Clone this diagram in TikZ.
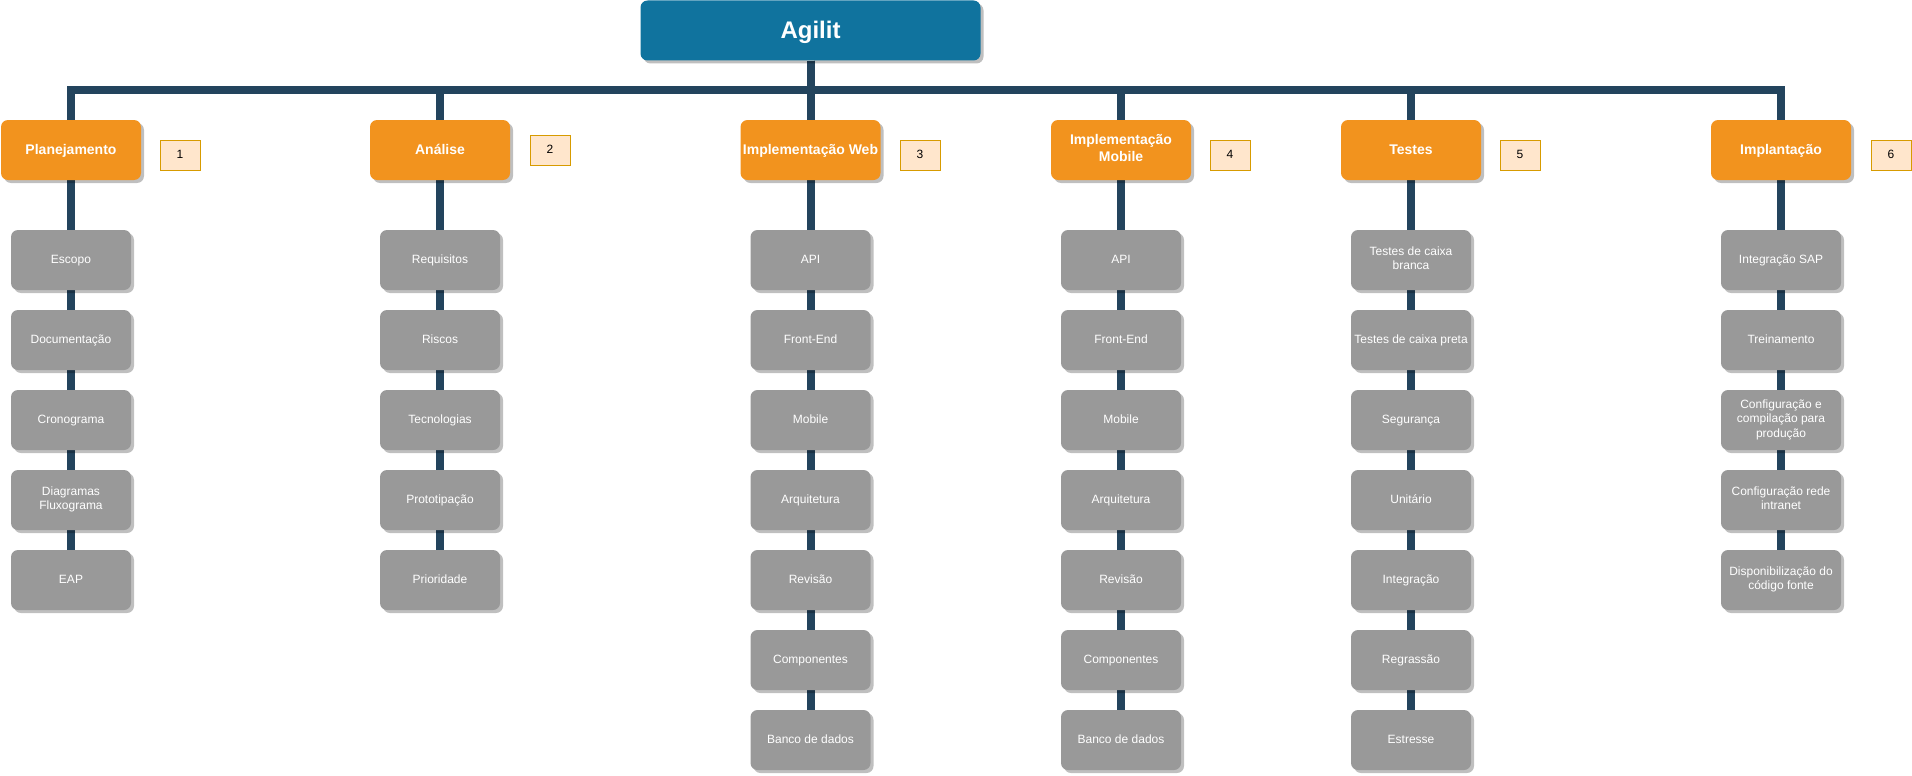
\documentclass[tikz,border=0pt]{standalone}
\usepackage{fontspec}
\setmainfont{Liberation Sans}
\usetikzlibrary{shadows,backgrounds}
\definecolor{agblue}{HTML}{10739E}
\definecolor{agorange}{HTML}{F2931E}
\definecolor{aggray}{HTML}{999999}
\definecolor{agline}{HTML}{23445D}
\definecolor{lblfill}{HTML}{FFE6CC}
\definecolor{lbldraw}{HTML}{D79B00}
\newcommand\dstrut{\vrule width 0pt height 0.93em depth 0.27em\relax}
\begin{document}
\begin{tikzpicture}[x=1pt,y=-1pt,
 shadowed/.style={drop shadow={shadow xshift=3pt,shadow yshift=-3pt,opacity=0.25,fill=black}},
 boxtext/.style={execute at begin node=\dstrut,execute at end node=\dstrut},
 topbox/.style={rectangle,rounded corners=7pt,fill=agblue,minimum width=340pt,minimum height=60pt,inner sep=0pt,text=white,font=\fontsize{24}{28.8}\selectfont\bfseries,align=center,boxtext,shadowed},
 phase/.style={rectangle,rounded corners=7pt,fill=agorange,minimum width=140pt,minimum height=60pt,inner sep=0pt,text=white,font=\fontsize{14}{16.8}\selectfont\bfseries,align=center,boxtext,shadowed},
 task/.style={rectangle,rounded corners=7pt,fill=aggray,minimum width=120pt,minimum height=60pt,inner sep=0pt,text=white,font=\fontsize{12}{14.4}\selectfont,align=center,boxtext,shadowed},
 num/.style={rectangle,fill=lblfill,draw=lbldraw,line width=1pt,minimum width=40pt,minimum height=30pt,inner sep=0pt,font=\fontsize{12}{14.4}\selectfont,align=center,boxtext},
 conn/.style={draw=agline,line width=8pt}]
\useasboundingbox (0,0) rectangle (1912,776);
\coordinate (bus) at (0,90);

\node[topbox] (top) at (810.5,30.5) {Agilit};

% headers
\node[phase] (p1) at (71,150) {Planejamento};
\node[phase] (p2) at (440,150) {Análise};
\node[phase] (p3) at (810.5,150) {Implementação Web};
\node[phase] (p4) at (1121,150) {Implementação\\Mobile};
\node[phase] (p5) at (1411,150) {Testes};
\node[phase] (p6) at (1781,150) {Implantação};

% number labels
\node[num] (n1) at (180,155) {1};
\node[num] (n2) at (550,150) {2};
\node[num] (n3) at (920,155) {3};
\node[num] (n4) at (1230,155) {4};
\node[num] (n5) at (1520,155) {5};
\node[num] (n6) at (1891,155) {6};

% column 1
\node[task] (t11) at (71,260) {Escopo};
\node[task] (t12) at (71,340) {Documentação};
\node[task] (t13) at (71,420) {Cronograma};
\node[task] (t14) at (71,500) {Diagramas\\Fluxograma};
\node[task] (t15) at (71,580) {EAP};
% column 2
\node[task] (t21) at (440,260) {Requisitos};
\node[task] (t22) at (440,340) {Riscos};
\node[task] (t23) at (440,420) {Tecnologias};
\node[task] (t24) at (440,500) {Prototipação};
\node[task] (t25) at (440,580) {Prioridade};
% column 3
\node[task] (t31) at (810.5,260) {API};
\node[task] (t32) at (810.5,340) {Front-End};
\node[task] (t33) at (810.5,420) {Mobile};
\node[task] (t34) at (810.5,500) {Arquitetura};
\node[task] (t35) at (810.5,580) {Revisão};
\node[task] (t36) at (810.5,660) {Componentes};
\node[task] (t37) at (810.5,740) {Banco de dados};
% column 4
\node[task] (t41) at (1121,260) {API};
\node[task] (t42) at (1121,340) {Front-End};
\node[task] (t43) at (1121,420) {Mobile};
\node[task] (t44) at (1121,500) {Arquitetura};
\node[task] (t45) at (1121,580) {Revisão};
\node[task] (t46) at (1121,660) {Componentes};
\node[task] (t47) at (1121,740) {Banco de dados};
% column 5
\node[task] (t51) at (1411,260) {Testes de caixa\\branca};
\node[task] (t52) at (1411,340) {Testes de caixa preta};
\node[task] (t53) at (1411,420) {Segurança};
\node[task] (t54) at (1411,500) {Unitário};
\node[task] (t55) at (1411,580) {Integração};
\node[task] (t56) at (1411,660) {Regrassão};
\node[task] (t57) at (1411,740) {Estresse};
% column 6
\node[task] (t61) at (1781,260) {Integração SAP};
\node[task] (t62) at (1781,340) {Treinamento};
\node[task] (t63) at (1781,420) {Configuração e\\compilação para\\produção};
\node[task] (t64) at (1781,500) {Configuração rede\\intranet};
\node[task] (t65) at (1781,580) {Disponibilização do\\código fonte};

\begin{scope}[on background layer]
\foreach \c in {1,...,6} {
  \draw[conn] (top.south) -- (top.south |- bus) -| (p\c.north);
  \draw[conn] (p\c.south) -- (t\c1.north);
}
\foreach \c/\n in {1/5,2/5,3/7,4/7,5/7,6/5} {
  \foreach \i in {2,...,\n} {
    \pgfmathtruncatemacro\j{\i-1}
    \draw[conn] (t\c\j.south) -- (t\c\i.north);
  }
}
\end{scope}
\end{tikzpicture}
\end{document}
